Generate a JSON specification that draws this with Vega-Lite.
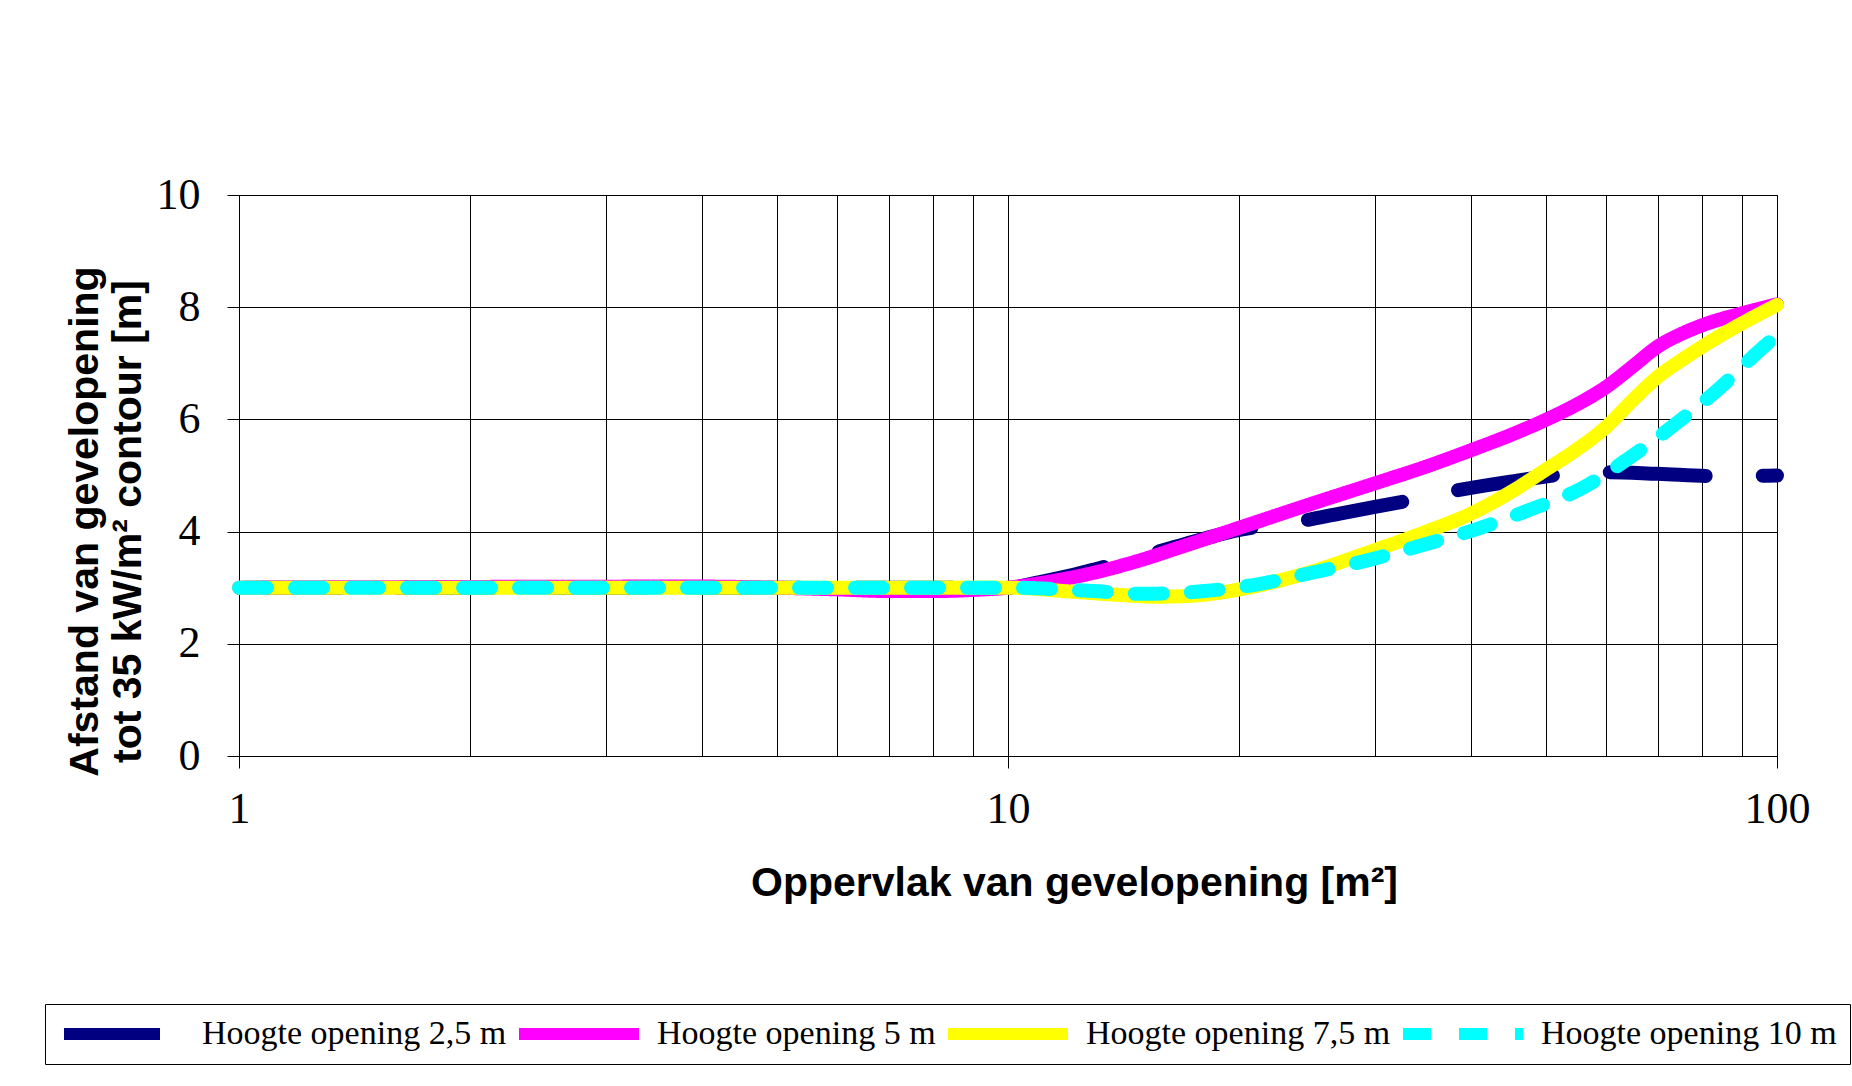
{
  "$schema": "https://vega.github.io/schema/vega-lite/v6.json",
  "description": "Afstand van gevelopening tot 35 kW/m2 contour",
  "width": 1538,
  "height": 561,
  "autosize": {"type": "none"},
  "padding": {"left": 239, "top": 195, "right": 75, "bottom": 330},
  "background": "white",
  "data": {
    "values": [
      {"serie": "Hoogte opening 2,5 m", "opp": 1, "afstand": 3.0},
      {"serie": "Hoogte opening 2,5 m", "opp": 5, "afstand": 3.0},
      {"serie": "Hoogte opening 2,5 m", "opp": 8, "afstand": 3.0},
      {"serie": "Hoogte opening 2,5 m", "opp": 10, "afstand": 3.0},
      {"serie": "Hoogte opening 2,5 m", "opp": 11, "afstand": 3.1},
      {"serie": "Hoogte opening 2,5 m", "opp": 12, "afstand": 3.21},
      {"serie": "Hoogte opening 2,5 m", "opp": 13, "afstand": 3.33},
      {"serie": "Hoogte opening 2,5 m", "opp": 14.7, "afstand": 3.53},
      {"serie": "Hoogte opening 2,5 m", "opp": 17, "afstand": 3.78},
      {"serie": "Hoogte opening 2,5 m", "opp": 20, "afstand": 4.03},
      {"serie": "Hoogte opening 2,5 m", "opp": 24.3, "afstand": 4.2},
      {"serie": "Hoogte opening 2,5 m", "opp": 27, "afstand": 4.32},
      {"serie": "Hoogte opening 2,5 m", "opp": 30, "afstand": 4.44},
      {"serie": "Hoogte opening 2,5 m", "opp": 33.4, "afstand": 4.56},
      {"serie": "Hoogte opening 2,5 m", "opp": 37.9, "afstand": 4.72},
      {"serie": "Hoogte opening 2,5 m", "opp": 45, "afstand": 4.89},
      {"serie": "Hoogte opening 2,5 m", "opp": 52.8, "afstand": 5.02},
      {"serie": "Hoogte opening 2,5 m", "opp": 60, "afstand": 5.06},
      {"serie": "Hoogte opening 2,5 m", "opp": 70, "afstand": 5.03},
      {"serie": "Hoogte opening 2,5 m", "opp": 83.6, "afstand": 4.99},
      {"serie": "Hoogte opening 2,5 m", "opp": 100, "afstand": 5.0},

      {"serie": "Hoogte opening 5 m", "opp": 1, "afstand": 3.0},
      {"serie": "Hoogte opening 5 m", "opp": 4, "afstand": 3.02},
      {"serie": "Hoogte opening 5 m", "opp": 5, "afstand": 3.0},
      {"serie": "Hoogte opening 5 m", "opp": 6, "afstand": 2.97},
      {"serie": "Hoogte opening 5 m", "opp": 7, "afstand": 2.94},
      {"serie": "Hoogte opening 5 m", "opp": 8, "afstand": 2.94},
      {"serie": "Hoogte opening 5 m", "opp": 9, "afstand": 2.96},
      {"serie": "Hoogte opening 5 m", "opp": 10, "afstand": 3.0},
      {"serie": "Hoogte opening 5 m", "opp": 11, "afstand": 3.08},
      {"serie": "Hoogte opening 5 m", "opp": 12.1, "afstand": 3.18},
      {"serie": "Hoogte opening 5 m", "opp": 14.7, "afstand": 3.47},
      {"serie": "Hoogte opening 5 m", "opp": 17, "afstand": 3.75},
      {"serie": "Hoogte opening 5 m", "opp": 20, "afstand": 4.07},
      {"serie": "Hoogte opening 5 m", "opp": 25, "afstand": 4.51},
      {"serie": "Hoogte opening 5 m", "opp": 30, "afstand": 4.86},
      {"serie": "Hoogte opening 5 m", "opp": 35, "afstand": 5.16},
      {"serie": "Hoogte opening 5 m", "opp": 40, "afstand": 5.45},
      {"serie": "Hoogte opening 5 m", "opp": 45, "afstand": 5.72},
      {"serie": "Hoogte opening 5 m", "opp": 50, "afstand": 5.99},
      {"serie": "Hoogte opening 5 m", "opp": 55, "afstand": 6.27},
      {"serie": "Hoogte opening 5 m", "opp": 60, "afstand": 6.58},
      {"serie": "Hoogte opening 5 m", "opp": 65, "afstand": 6.95},
      {"serie": "Hoogte opening 5 m", "opp": 70, "afstand": 7.3},
      {"serie": "Hoogte opening 5 m", "opp": 75, "afstand": 7.52},
      {"serie": "Hoogte opening 5 m", "opp": 80, "afstand": 7.68},
      {"serie": "Hoogte opening 5 m", "opp": 90, "afstand": 7.89},
      {"serie": "Hoogte opening 5 m", "opp": 100, "afstand": 8.05},

      {"serie": "Hoogte opening 7,5 m", "opp": 1, "afstand": 3.0},
      {"serie": "Hoogte opening 7,5 m", "opp": 10, "afstand": 3.0},
      {"serie": "Hoogte opening 7,5 m", "opp": 12.1, "afstand": 2.93},
      {"serie": "Hoogte opening 7,5 m", "opp": 14, "afstand": 2.87},
      {"serie": "Hoogte opening 7,5 m", "opp": 15.6, "afstand": 2.84},
      {"serie": "Hoogte opening 7,5 m", "opp": 17, "afstand": 2.85},
      {"serie": "Hoogte opening 7,5 m", "opp": 18.1, "afstand": 2.88},
      {"serie": "Hoogte opening 7,5 m", "opp": 20, "afstand": 2.97},
      {"serie": "Hoogte opening 7,5 m", "opp": 23.9, "afstand": 3.22},
      {"serie": "Hoogte opening 7,5 m", "opp": 30, "afstand": 3.67},
      {"serie": "Hoogte opening 7,5 m", "opp": 35, "afstand": 4.0},
      {"serie": "Hoogte opening 7,5 m", "opp": 40, "afstand": 4.32},
      {"serie": "Hoogte opening 7,5 m", "opp": 45, "afstand": 4.7},
      {"serie": "Hoogte opening 7,5 m", "opp": 50, "afstand": 5.1},
      {"serie": "Hoogte opening 7,5 m", "opp": 55, "afstand": 5.47},
      {"serie": "Hoogte opening 7,5 m", "opp": 60, "afstand": 5.87},
      {"serie": "Hoogte opening 7,5 m", "opp": 65, "afstand": 6.35},
      {"serie": "Hoogte opening 7,5 m", "opp": 70, "afstand": 6.76},
      {"serie": "Hoogte opening 7,5 m", "opp": 75, "afstand": 7.05},
      {"serie": "Hoogte opening 7,5 m", "opp": 80, "afstand": 7.3},
      {"serie": "Hoogte opening 7,5 m", "opp": 90, "afstand": 7.71},
      {"serie": "Hoogte opening 7,5 m", "opp": 100, "afstand": 8.04},

      {"serie": "Hoogte opening 10 m", "opp": 1, "afstand": 3.0},
      {"serie": "Hoogte opening 10 m", "opp": 10, "afstand": 3.0},
      {"serie": "Hoogte opening 10 m", "opp": 12.9, "afstand": 2.94},
      {"serie": "Hoogte opening 10 m", "opp": 15.1, "afstand": 2.89},
      {"serie": "Hoogte opening 10 m", "opp": 18, "afstand": 2.94},
      {"serie": "Hoogte opening 10 m", "opp": 21.3, "afstand": 3.07},
      {"serie": "Hoogte opening 10 m", "opp": 25.1, "afstand": 3.28},
      {"serie": "Hoogte opening 10 m", "opp": 29.6, "afstand": 3.5},
      {"serie": "Hoogte opening 10 m", "opp": 34.8, "afstand": 3.77},
      {"serie": "Hoogte opening 10 m", "opp": 40.8, "afstand": 4.05},
      {"serie": "Hoogte opening 10 m", "opp": 47.3, "afstand": 4.37},
      {"serie": "Hoogte opening 10 m", "opp": 55.7, "afstand": 4.77},
      {"serie": "Hoogte opening 10 m", "opp": 63.9, "afstand": 5.29},
      {"serie": "Hoogte opening 10 m", "opp": 73.5, "afstand": 5.9},
      {"serie": "Hoogte opening 10 m", "opp": 83.6, "afstand": 6.52},
      {"serie": "Hoogte opening 10 m", "opp": 94.6, "afstand": 7.21},
      {"serie": "Hoogte opening 10 m", "opp": 100, "afstand": 7.5}
    ]
  },
  "encoding": {
    "x": {
      "field": "opp",
      "type": "quantitative",
      "scale": {"type": "log", "domain": [1, 100], "nice": false},
      "axis": {
        "values": [1, 2, 3, 4, 5, 6, 7, 8, 9, 10, 20, 30, 40, 50, 60, 70, 80, 90, 100],
        "format": "d",
        "labelExpr": "datum.value == 1 || datum.value == 10 || datum.value == 100 ? datum.label : ''",
        "tickSize": {"condition": {"test": "datum.value == 1 || datum.value == 10 || datum.value == 100", "value": 12}, "value": 0},
        "labelPadding": 19,
        "labelFlush": false,
        "labelOverlap": false,
        "title": "Oppervlak van gevelopening [m²]",
        "titleX": 835,
        "titleY": 139,
        "titleAlign": "center",
        "titleBaseline": "alphabetic"
      }
    },
    "y": {
      "field": "afstand",
      "type": "quantitative",
      "scale": {"domain": [0, 10], "nice": false, "zero": false},
      "axis": {
        "values": [0, 2, 4, 6, 8, 10],
        "tickSize": 12,
        "labelPadding": 27,
        "title": ["Afstand van gevelopening", "tot 35 kW/m² contour [m]"],
        "titleAngle": 270,
        "titleX": -142,
        "titleY": 326,
        "titleAlign": "center",
        "titleBaseline": "alphabetic",
        "titleLineHeight": 43
      }
    },
    "color": {
      "field": "serie",
      "type": "nominal",
      "scale": {
        "domain": ["Hoogte opening 2,5 m", "Hoogte opening 5 m", "Hoogte opening 7,5 m", "Hoogte opening 10 m"],
        "range": ["#000080", "#ff00ff", "#ffff00", "#00ffff"]
      },
      "legend": {"title": null}
    },
    "strokeDash": {
      "field": "serie",
      "type": "nominal",
      "scale": {
        "domain": ["Hoogte opening 2,5 m", "Hoogte opening 5 m", "Hoogte opening 7,5 m", "Hoogte opening 10 m"],
        "range": [[96, 57], [1, 0], [1, 0], [28, 28]]
      },
      "legend": {"title": null}
    }
  },
  "layer": [
    {
      "transform": [{"filter": "datum.serie == 'Hoogte opening 2,5 m'"}],
      "mark": {"type": "line", "strokeWidth": 14, "strokeCap": "round", "interpolate": "monotone", "strokeDashOffset": -6}
    },
    {
      "transform": [{"filter": "datum.serie == 'Hoogte opening 5 m'"}],
      "mark": {"type": "line", "strokeWidth": 14, "strokeCap": "round", "interpolate": "monotone"}
    },
    {
      "transform": [{"filter": "datum.serie == 'Hoogte opening 7,5 m'"}],
      "mark": {"type": "line", "strokeWidth": 14, "strokeCap": "round", "interpolate": "monotone"}
    },
    {
      "transform": [{"filter": "datum.serie == 'Hoogte opening 10 m'"}],
      "mark": {"type": "line", "strokeWidth": 14, "strokeCap": "round", "interpolate": "monotone"}
    }
  ],
  "config": {
    "view": {"stroke": "black", "strokeWidth": 1},
    "axis": {
      "grid": true,
      "gridColor": "black",
      "gridOpacity": 1,
      "gridWidth": 1,
      "domainColor": "black",
      "domainWidth": 1,
      "tickColor": "black",
      "tickWidth": 1,
      "labelColor": "black",
      "labelFont": "Liberation Serif",
      "labelFontSize": 44,
      "titleColor": "black",
      "titleFont": "Liberation Sans",
      "titleFontSize": 41,
      "titleFontWeight": "bold"
    },
    "legend": {
      "orient": "none",
      "legendX": -194,
      "legendY": 809,
      "direction": "horizontal",
      "columns": 4,
      "strokeColor": "black",
      "padding": 13,
      "clipHeight": 34,
      "symbolType": "stroke",
      "symbolSize": 14400,
      "symbolStrokeWidth": 12,
      "labelFont": "Liberation Serif",
      "labelFontSize": 34,
      "labelColor": "black",
      "labelOffset": 12,
      "labelLimit": 0,
      "columnPadding": 6
    }
  }
}
